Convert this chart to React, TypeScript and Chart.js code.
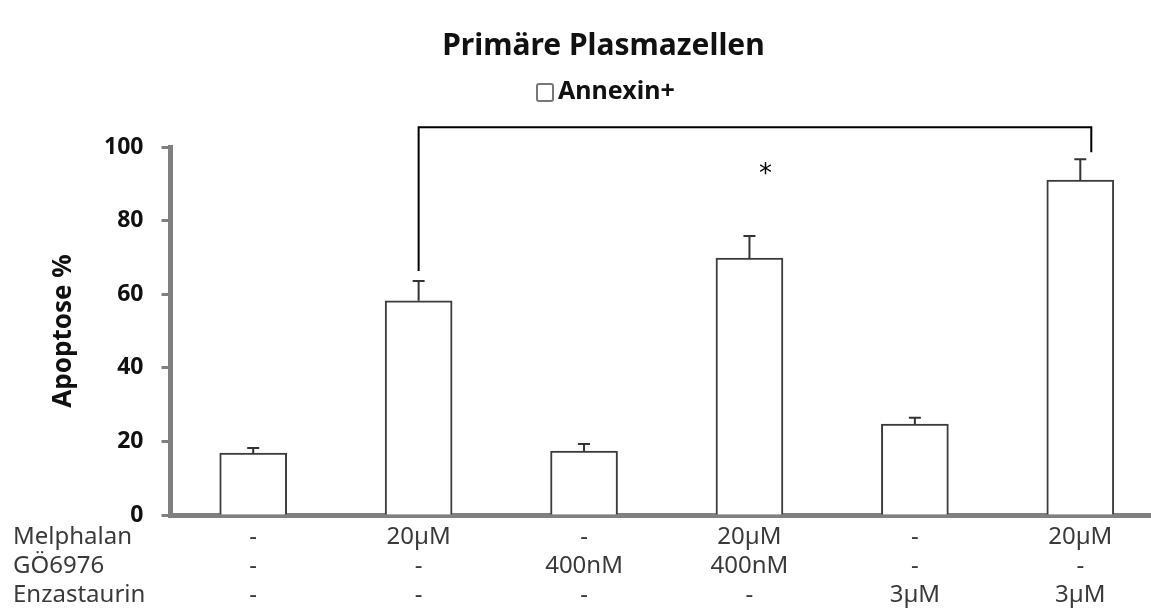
import { useEffect, useRef } from 'react';
import { Chart, registerables } from 'chart.js';

Chart.register(...registerables);

// Treatment table shown under the bars (one entry per group)
const rowNames = ['Melphalan', 'GÖ6976', 'Enzastaurin'];
const melphalan = ['-', '20µM', '-', '20µM', '-', '20µM'];
const go6976 = ['-', '-', '400nM', '400nM', '-', '-'];
const enzastaurin = ['-', '-', '-', '-', '3µM', '3µM'];

// Annexin+ apoptosis (%) and upper error (SD)
const annexinValues = [16.8, 58.2, 17.4, 69.8, 24.7, 91.0];
const annexinErrors = [1.4, 5.4, 1.9, 6.0, 1.7, 5.7];

const yTickValues = [0, 20, 40, 60, 80, 100];

// Significance bracket between Melphalan alone and Melphalan + Enzastaurin
const bracketGroups = [1, 5];
const bracketLevel = 105.4;
const bracketEnds = [66.3, 98.6];
const starGroup = 3;
const starLevel = 94.4;

const FONT = 'Noto Sans';
const TEXT = '#111';
const AXIS = '#808080';

const groupLabels = melphalan.map((m, i) => [m, go6976[i], enzastaurin[i]]);

const overlayPlugin = {
  id: 'overlay',
  afterDatasetsDraw(chart: any) {
    const { ctx } = chart;
    const ys = chart.scales.y;
    const meta = chart.getDatasetMeta(0);

    // upper error bars
    ctx.save();
    ctx.strokeStyle = '#333';
    ctx.lineWidth = 2;
    meta.data.forEach((bar: any, i: number) => {
      const yErr = ys.getPixelForValue(annexinValues[i] + annexinErrors[i]);
      ctx.beginPath();
      ctx.moveTo(bar.x, bar.y);
      ctx.lineTo(bar.x, yErr);
      ctx.moveTo(bar.x - 6, yErr);
      ctx.lineTo(bar.x + 6, yErr);
      ctx.stroke();
    });
    ctx.restore();
  },
  afterDraw(chart: any) {
    const { ctx } = chart;
    const xs = chart.scales.x;
    const ys = chart.scales.y;

    // significance bracket
    const xl = xs.getPixelForValue(bracketGroups[0]);
    const xr = xs.getPixelForValue(bracketGroups[1]) + 11;
    const yt = ys.getPixelForValue(bracketLevel);
    ctx.save();
    ctx.strokeStyle = '#000';
    ctx.lineWidth = 2;
    ctx.beginPath();
    ctx.moveTo(xl, ys.getPixelForValue(bracketEnds[0]));
    ctx.lineTo(xl, yt);
    ctx.lineTo(xr, yt);
    ctx.lineTo(xr, ys.getPixelForValue(bracketEnds[1]));
    ctx.stroke();

    // asterisk
    ctx.fillStyle = '#000';
    ctx.font = '26px "DejaVu Sans"';
    ctx.textAlign = 'center';
    ctx.textBaseline = 'alphabetic';
    ctx.fillText('*', xs.getPixelForValue(starGroup) + 16, ys.getPixelForValue(starLevel) + 14);

    // legend
    ctx.strokeStyle = '#777';
    ctx.lineWidth = 2;
    ctx.fillStyle = '#fff';
    ctx.beginPath();
    ctx.roundRect(537, 84, 16, 17, 2);
    ctx.fill();
    ctx.stroke();
    ctx.fillStyle = TEXT;
    ctx.font = `bold 25px "${FONT}"`;
    ctx.textAlign = 'left';
    ctx.textBaseline = 'middle';
    ctx.fillText('Annexin+', 558, 92);

    // row names of the treatment table
    ctx.fillStyle = '#3a3a3a';
    ctx.font = `24px "${FONT}"`;
    const y0 = ys.getPixelForValue(0);
    rowNames.forEach((name, i) => {
      ctx.fillText(name, 13, y0 + 22 + i * 29);
    });
    ctx.restore();
  },
};

export default function App() {
  const ref = useRef<HTMLCanvasElement>(null);

  useEffect(() => {
    const chart = new Chart(ref.current!, {
      type: 'bar',
      data: {
        labels: groupLabels,
        datasets: [
          {
            label: 'Annexin+',
            data: annexinValues,
            backgroundColor: '#fff',
            borderColor: '#3c3c3c',
            borderWidth: 2,
            barThickness: 67,
          },
        ],
      },
      options: {
        animation: false,
        responsive: false,
        devicePixelRatio: 1,
        layout: { padding: { left: 44, right: 0, top: 0, bottom: 0 } },
        plugins: {
          legend: { display: false },
          tooltip: { enabled: false },
          title: {
            display: true,
            text: 'Primäre Plasmazellen',
            color: TEXT,
            font: { family: FONT, size: 30, weight: 'bold' },
            padding: { top: 28, bottom: 83 },
          },
        },
        scales: {
          x: {
            type: 'category',
            offset: true,
            z: 1,
            grid: { display: false, drawTicks: false },
            border: { display: true, color: AXIS, width: 5 },
            ticks: {
              color: '#3a3a3a',
              font: { family: FONT, size: 24, lineHeight: 29 / 24 },
              padding: 7.5,
              maxRotation: 0,
              autoSkip: false,
            },
            afterFit: (s: any) => {
              s.height = 95;
            },
          },
          y: {
            min: 0,
            max: 100,
            z: 1,
            afterBuildTicks: (s: any) => {
              s.ticks = yTickValues.map((v) => ({ value: v }));
            },
            grid: {
              drawOnChartArea: false,
              drawTicks: true,
              tickLength: 9,
              tickWidth: 3,
              tickColor: AXIS,
            },
            border: { display: true, color: AXIS, width: 5 },
            ticks: {
              color: TEXT,
              font: { family: FONT, size: 23, weight: 'bold' },
              padding: 18,
            },
            title: {
              display: true,
              text: 'Apoptose %',
              color: TEXT,
              font: { family: FONT, size: 26, weight: 'bold' },
              padding: { top: 4, bottom: 0 },
            },
            afterFit: (s: any) => {
              s.width = 126.5;
            },
          },
        },
      },
      plugins: [overlayPlugin],
    } as any);
    return () => chart.destroy();
  }, []);

  return (
    <div
      style={{
        position: 'fixed',
        left: 0,
        top: 0,
        width: 1151,
        height: 610,
        overflow: 'hidden',
        background: '#fff',
      }}
    >
      <canvas
        ref={ref}
        width={1163}
        height={610}
        style={{ display: 'block', width: 1163, height: 610 }}
      />
    </div>
  );
}
